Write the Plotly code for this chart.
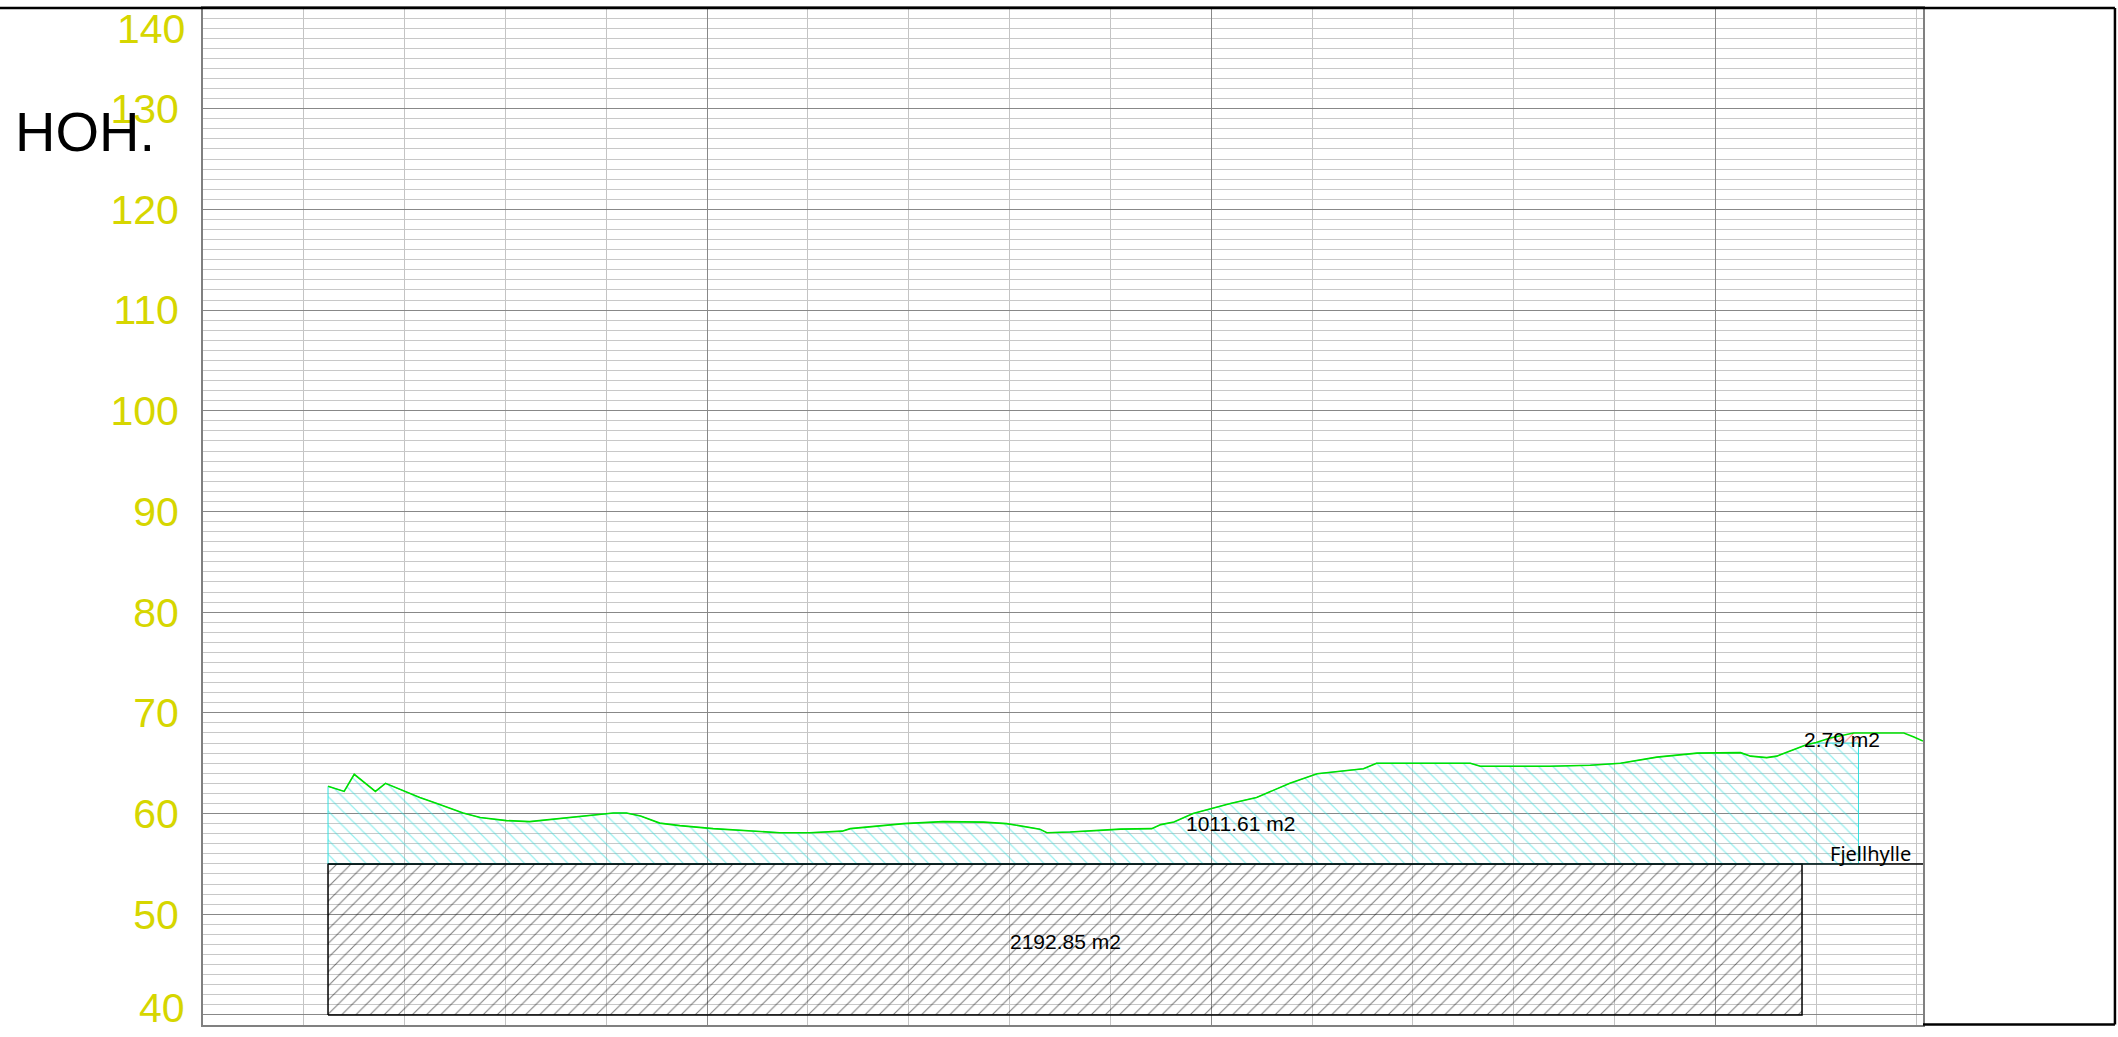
import plotly.graph_objects as go

# terrain profile (distance m, height m.o.h.)
terrain_x = [12.4, 14.0, 15.0, 17.1, 18.1, 20.0, 21.5, 23.2, 25.8, 27.5, 30.1, 32.4,
             35.1, 37.4, 40.7, 42.0, 43.4, 45.3, 47.3, 50.6, 53.9, 57.2, 60.2, 63.4,
             64.2, 65.8, 69.5, 73.4, 77.4, 79.7, 83.0, 83.7, 86.0, 89.3, 91.0, 94.1,
             95.0, 96.3, 98.2, 101.9, 104.5, 107.8, 110.5, 115.1, 116.4, 125.7, 126.7,
             133.6, 137.6, 140.6, 144.2, 148.2, 152.5, 153.5, 155.1, 156.1, 157.5,
             159.1, 160.0, 161.4, 163.7, 164.2, 168.7, 169.7, 170.6]
terrain_y = [62.7, 62.2, 63.9, 62.2, 63.0, 62.2, 61.6, 61.0, 60.05, 59.6, 59.3, 59.2,
             59.5, 59.75, 60.05, 60.05, 59.75, 59.05, 58.8, 58.5, 58.3, 58.1, 58.1, 58.25,
             58.5, 58.65, 59.0, 59.2, 59.15, 59.0, 58.45, 58.1, 58.17, 58.35, 58.45, 58.5,
             58.9, 59.15, 60.0, 61.0, 61.6, 63.0, 63.95, 64.45, 65.0, 65.0, 64.7,
             64.7, 64.8, 65.0, 65.6, 66.0, 66.05, 65.7, 65.55, 65.7, 66.25,
             66.85, 67.05, 67.5, 68.0, 68.0, 68.0, 67.6, 67.2]

# rock block (2192.85 m2)
rock_x0, rock_x1 = 12.4, 158.6
rock_bottom, rock_top = 40.0, 55.0

# soil section above the shelf (1011.61 m2), capped at cap_level from cap_x0
soil_x0, soil_x1 = 12.4, 164.2
cap_x0, cap_level = 160.0, 67.0

# shelf line "Fjellhylle"
shelf_x = [12.4, 170.6]
shelf_y = [55.0, 55.0]

y_ticks = [50, 60, 70, 80, 90, 100, 110, 120, 130]
y_end_ticks = [40, 140]

labels = [
    {"text": "2192.85 m2", "x": 85.5, "y": 47.3},
    {"text": "1011.61 m2", "x": 102.9, "y": 59.0},
    {"text": "2.79 m2", "x": 162.6, "y": 67.35},
]

YELLOW = "#d6d600"
CYAN = "#30e0e0"
GREEN = "#00e000"

fig = go.Figure()

# black hatched rock block
fig.add_trace(go.Scatter(
    x=[rock_x0, rock_x1, rock_x1, rock_x0, rock_x0],
    y=[rock_bottom, rock_bottom, rock_top, rock_top, rock_bottom],
    mode="lines", fill="toself", fillcolor="rgba(0,0,0,0)",
    line=dict(color="black", width=1.5),
    fillpattern=dict(shape="/", size=10, solidity=0.11, fgcolor="black",
                     bgcolor="rgba(0,0,0,0)"),
    hoverinfo="skip", showlegend=False))

# cyan hatched soil section
sx = [x for x in terrain_x if x < cap_x0]
sy = [y for x, y in zip(terrain_x, terrain_y) if x < cap_x0]
soil_px = sx + [cap_x0, soil_x1, soil_x1, soil_x0, soil_x0]
soil_py = sy + [cap_level, cap_level, rock_top, rock_top, sy[0]]
fig.add_trace(go.Scatter(
    x=soil_px, y=soil_py,
    mode="lines", fill="toself", fillcolor="rgba(0,0,0,0)",
    line=dict(color=CYAN, width=1),
    fillpattern=dict(shape="\\", size=10.2, solidity=0.12, fgcolor=CYAN,
                     bgcolor="rgba(0,0,0,0)"),
    hoverinfo="skip", showlegend=False))

# small red section between terrain and cap
rx = [x for x in terrain_x if cap_x0 <= x <= soil_x1]
ry = [y for x, y in zip(terrain_x, terrain_y) if cap_x0 <= x <= soil_x1]
fig.add_trace(go.Scatter(
    x=rx + [soil_x1, cap_x0], y=ry + [cap_level, ry[0]],
    mode="lines", fill="toself", fillcolor="rgba(0,0,0,0)",
    line=dict(color="rgba(0,0,0,0)", width=0),
    fillpattern=dict(shape="/", size=6, solidity=0.17, fgcolor="red",
                     bgcolor="rgba(0,0,0,0)"),
    hoverinfo="skip", showlegend=False))

# shelf line
fig.add_trace(go.Scatter(x=shelf_x, y=shelf_y, mode="lines",
                         line=dict(color="black", width=1.5),
                         hoverinfo="skip", showlegend=False))

# terrain line
fig.add_trace(go.Scatter(x=terrain_x, y=terrain_y, mode="lines",
                         line=dict(color=GREEN, width=1.6),
                         hoverinfo="skip", showlegend=False))

for lab in labels:
    fig.add_annotation(x=lab["x"], y=lab["y"], text=lab["text"], showarrow=False,
                       font=dict(family="Liberation Sans", size=21, color="black"))

fig.add_annotation(x=shelf_x[1], y=shelf_y[1], text="Fjellhylle", showarrow=False,
                   xanchor="right", yanchor="bottom", xshift=-10, yshift=-5,
                   font=dict(family="Noto Sans", size=20, color="black"))

# end tick labels kept inside the plot height
fig.add_annotation(xref="paper", x=0, xanchor="right", xshift=-16,
                   y=y_end_ticks[1], yanchor="top", yshift=4,
                   text=str(y_end_ticks[1]), showarrow=False,
                   font=dict(family="Liberation Sans", size=41, color=YELLOW))
fig.add_annotation(xref="paper", x=0, xanchor="right", xshift=-16,
                   y=39, yanchor="bottom", yshift=-8,
                   text=str(y_end_ticks[0]), showarrow=False,
                   font=dict(family="Liberation Sans", size=41, color=YELLOW))

fig.add_annotation(xref="paper", x=0, xanchor="left", xshift=-190,
                   y=127.7, yanchor="middle",
                   text="HOH.", showarrow=False,
                   font=dict(family="Liberation Sans", size=56, color="black"))

# outer frame
frame = dict(color="black", width=2.5)
fig.add_shape(type="line", xref="paper", yref="paper", x0=-0.12, x1=1.1116, y0=1, y1=1, line=frame)
fig.add_shape(type="line", xref="paper", yref="paper", x0=1.1116, x1=1.1116, y0=1, y1=0.0005, line=frame)
fig.add_shape(type="line", xref="paper", yref="paper", x0=1, x1=1.1116, y0=0.0005, y1=0.0005, line=frame)

fig.update_xaxes(range=[0, 170.6], showticklabels=False, ticks="",
                 tick0=0, dtick=50, showgrid=True, gridcolor="#888888", gridwidth=1.3,
                 minor=dict(dtick=10, showgrid=True, gridcolor="#c4c4c4", gridwidth=1),
                 showline=True, linecolor="#808080", linewidth=2, mirror=True,
                 zeroline=False, fixedrange=True)
fig.update_yaxes(range=[39, 140],
                 tickvals=y_ticks + [y_end_ticks[0]],
                 ticktext=[str(v) for v in y_ticks] + [""],
                 ticks="", ticklabelstandoff=14,
                 tickfont=dict(family="Liberation Sans", size=41, color=YELLOW),
                 showgrid=True, gridcolor="#888888", gridwidth=1.3,
                 minor=dict(tickvals=list(range(39, 141)), showgrid=True,
                            gridcolor="#c8c8c8", gridwidth=1),
                 showline=True, linecolor="#808080", linewidth=2, mirror=True,
                 zeroline=False, fixedrange=True)

fig.update_layout(width=2118, height=1037,
                  margin=dict(l=203, r=195, t=6, b=12),
                  plot_bgcolor="white", paper_bgcolor="white",
                  showlegend=False)

fig.write_html("out.html", config={"displayModeBar": False},
               post_script="document.body.style.margin='0';document.body.style.overflow='hidden';")
